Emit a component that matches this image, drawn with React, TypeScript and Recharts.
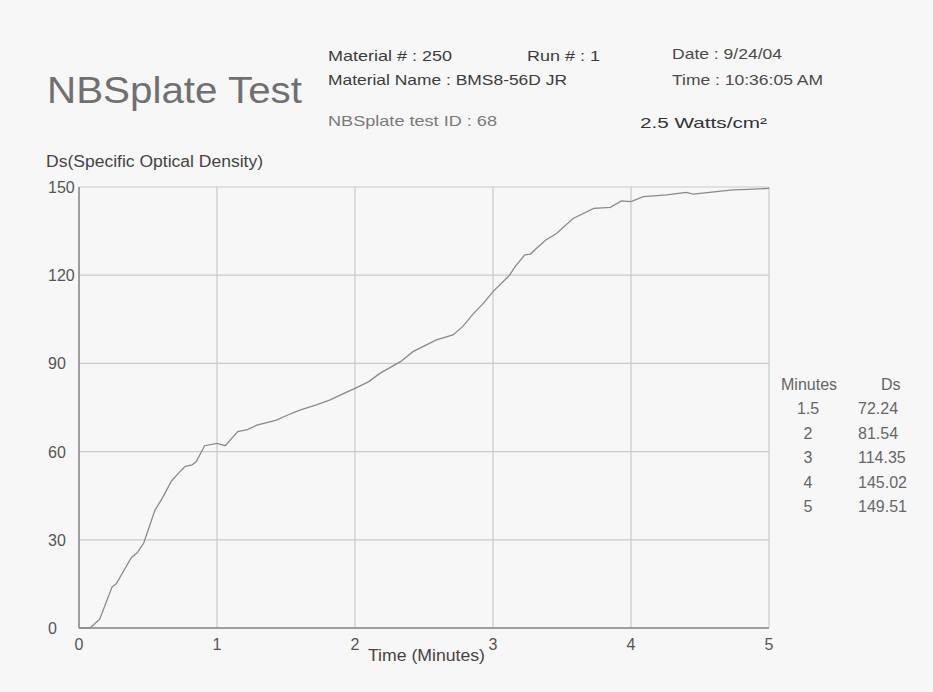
import { LineChart, Line, XAxis, YAxis, CartesianGrid } from 'recharts'

// curve (minutes, Ds)
const minutes = [
  0, 0.08, 0.15, 0.24, 0.27, 0.38, 0.42, 0.47, 0.55, 0.61, 0.67, 0.72, 0.77, 0.82, 0.85, 0.91,
  1.0, 1.06, 1.15, 1.22, 1.29, 1.43, 1.5, 1.6, 1.72, 1.82, 1.92, 2.0, 2.1, 2.18, 2.33, 2.42,
  2.59, 2.71, 2.78, 2.86, 2.93, 3.0, 3.12, 3.16, 3.23, 3.27, 3.38, 3.46, 3.58, 3.73, 3.85, 3.93,
  4.0, 4.09, 4.26, 4.4, 4.45, 4.62, 4.74, 4.85, 5.0,
]
const ds = [
  0, 0, 3, 14, 15, 24, 25.5, 29, 40, 44.7, 50, 52.6, 55, 55.5, 56.6, 62,
  62.8, 62, 66.8, 67.5, 69, 70.7, 72.2, 74.1, 75.9, 77.6, 79.8, 81.5, 83.8, 86.6, 90.6, 94,
  98, 99.7, 102.5, 107, 110.4, 114.4, 120, 122.9, 126.9, 127.2, 131.9, 134.2, 139.3, 142.7, 143.1, 145.3,
  145.0, 146.7, 147.3, 148.2, 147.6, 148.4, 149, 149.2, 149.5,
]

const xTicks = [0, 1, 2, 3, 4, 5]
const yTicks = [0, 30, 60, 90, 120, 150]

const tableMinutes = ['1.5', '2', '3', '4', '5']
const tableDs = ['72.24', '81.54', '114.35', '145.02', '149.51']

const data = minutes.map((t, i) => ({ t, ds: ds[i] }))

const FONT = '"Liberation Sans", Arial, sans-serif'

function YTick({ y, payload }: any) {
  return (
    <text x={48} y={y} dy={6} textAnchor="start" fill="#555" fontSize={16} fontFamily={FONT}>
      {payload.value}
    </text>
  )
}

function XTick({ x, y, payload }: any) {
  return (
    <text x={x} y={y} dy={14} textAnchor="middle" fill="#555" fontSize={16} fontFamily={FONT}>
      {payload.value}
    </text>
  )
}

export default function App() {
  return (
    <div style={{ position: 'absolute', left: 0, top: 0, width: 933, height: 692, background: '#f7f7f7' }}>
      <LineChart
        width={933}
        height={692}
        data={data}
        margin={{ top: 187, right: 164, bottom: 24, left: 0 }}
      >
        <CartesianGrid stroke="#c9c9c9" strokeWidth={1.2} />
        <XAxis
          dataKey="t"
          type="number"
          domain={[0, 5]}
          ticks={xTicks}
          height={40}
          tickLine={false}
          axisLine={{ stroke: '#8a8a8a', strokeWidth: 1.5 }}
          tick={<XTick />}
        />
        <YAxis
          type="number"
          domain={[0, 150]}
          ticks={yTicks}
          width={79}
          tickLine={false}
          axisLine={{ stroke: '#8a8a8a', strokeWidth: 1.5 }}
          tick={<YTick />}
        />
        <Line
          dataKey="ds"
          type="linear"
          stroke="#8a8a8a"
          strokeWidth={1.3}
          dot={false}
          isAnimationActive={false}
        />
      </LineChart>

      <svg
        width={933}
        height={692}
        style={{ position: 'absolute', left: 0, top: 0, pointerEvents: 'none', whiteSpace: 'pre' }}
        fontFamily={FONT}
      >
        <text x={47} y={103} fontSize={36} fill="#707070" textLength={255} lengthAdjust="spacingAndGlyphs">
          NBSplate Test
        </text>
        <text x={328} y={60.5} fontSize={15} fill="#3c3c3c" textLength={124} lengthAdjust="spacingAndGlyphs">
          {'Material # :  250'}
        </text>
        <text x={527} y={60.5} fontSize={15} fill="#3c3c3c" textLength={73} lengthAdjust="spacingAndGlyphs">
          {'Run # :  1'}
        </text>
        <text x={328} y={85} fontSize={15} fill="#3c3c3c" textLength={239} lengthAdjust="spacingAndGlyphs">
          Material Name : BMS8-56D JR
        </text>
        <text x={328} y={125.5} fontSize={15} fill="#7a7a7a" textLength={169} lengthAdjust="spacingAndGlyphs">
          {'NBSplate test ID :  68'}
        </text>
        <text x={672} y={58.5} fontSize={15} fill="#4a4a4a" textLength={110} lengthAdjust="spacingAndGlyphs">
          Date : 9/24/04
        </text>
        <text x={672} y={85} fontSize={15} fill="#4a4a4a" textLength={151} lengthAdjust="spacingAndGlyphs">
          Time : 10:36:05 AM
        </text>
        <text x={640} y={128} fontSize={15} fill="#333" textLength={127} lengthAdjust="spacingAndGlyphs">
          2.5 Watts/cm²
        </text>
        <text x={46} y={166.5} fontSize={16} fill="#444" textLength={217} lengthAdjust="spacingAndGlyphs">
          Ds(Specific Optical Density)
        </text>
        <text x={368} y={660.5} fontSize={16} fill="#444" textLength={117} lengthAdjust="spacingAndGlyphs">
          Time (Minutes)
        </text>

        <text x={781} y={389.5} fontSize={16} fill="#666">Minutes</text>
        <text x={881} y={389.5} fontSize={16} fill="#666">Ds</text>
        {tableMinutes.map((m, i) => (
          <text key={m} x={808} y={414 + i * 24.6} fontSize={16} fill="#666" textAnchor="middle">
            {m}
          </text>
        ))}
        {tableDs.map((v, i) => (
          <text key={v} x={858} y={414 + i * 24.6} fontSize={16} fill="#666">
            {v}
          </text>
        ))}
      </svg>
    </div>
  )
}
